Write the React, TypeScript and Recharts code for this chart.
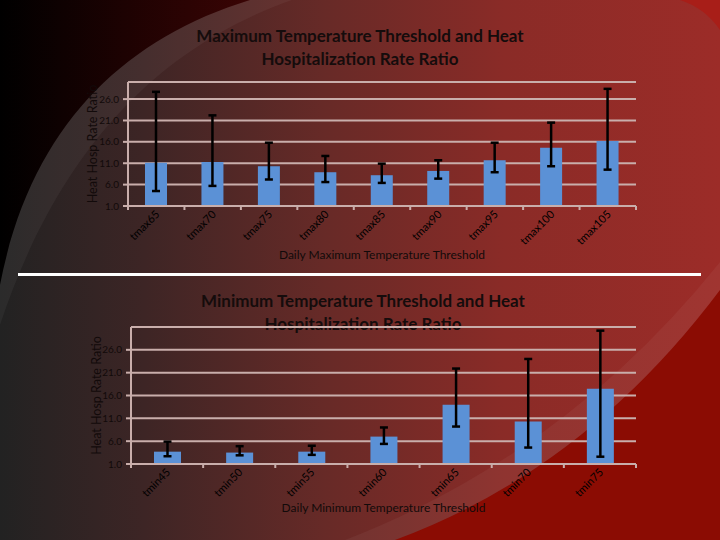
import React from 'react';
import { BarChart, Bar, XAxis, YAxis, CartesianGrid, ErrorBar, Label } from 'recharts';

const maxCategories = ['tmax65', 'tmax70', 'tmax75', 'tmax80', 'tmax85', 'tmax90', 'tmax95', 'tmax100', 'tmax105'];
const maxRatio = [11.1, 11.3, 10.3, 8.9, 8.2, 9.2, 11.7, 14.6, 16.2];
const maxLower = [4.5, 5.7, 7.2, 6.6, 6.4, 7.4, 8.9, 10.3, 9.5];
const maxUpper = [27.7, 22.2, 15.8, 12.7, 10.9, 11.7, 15.8, 20.5, 28.4];

const minCategories = ['tmin45', 'tmin50', 'tmin55', 'tmin60', 'tmin65', 'tmin70', 'tmin75'];
const minRatio = [3.7, 3.5, 3.7, 7.0, 14.0, 10.3, 17.5];
const minLower = [2.7, 2.9, 3.0, 5.4, 9.2, 4.6, 2.6];
const minUpper = [5.9, 4.9, 5.0, 9.0, 21.9, 24.0, 30.2];

const yTicks = [1, 6, 11, 16, 21, 26];

const buildRows = (cats: string[], vals: number[], lo: number[], hi: number[]) =>
  cats.map((c, i) => ({ name: c, ratio: vals[i], err: [vals[i] - lo[i], hi[i] - vals[i]] }));

const maxRows = buildRows(maxCategories, maxRatio, maxLower, maxUpper);
const minRows = buildRows(minCategories, minRatio, minLower, minUpper);

const FONT = 'Lato, "Open Sans", sans-serif';
const GRID = '#c9aeab';
const TEXT = '#120a0a';
const BAR = '#5b91d6';

const CHART_W = 720;
const RIGHT = 84;

const makeTick = (plotLeft: number, count: number) => (props: any) => {
  const { x, y, payload, index } = props;
  const step = (CHART_W - RIGHT - plotLeft) / count;
  const tx = x + 4;
  const ty = y + 9;
  return (
    <g>
      <line x1={x + step / 2} x2={x + step / 2} y1={y} y2={y + 4} stroke={GRID} strokeWidth={2} />
      {index === 0 ? <line x1={x - step / 2} x2={x - step / 2} y1={y} y2={y + 4} stroke={GRID} strokeWidth={2} /> : null}
      <text x={tx} y={ty} transform={`rotate(-45 ${tx} ${ty})`} textAnchor="end" fontSize={11} fill="#000" fontFamily={FONT}>
        {payload.value}
      </text>
    </g>
  );
};

const yLabel = (cx: number) => (props: any) => {
  const vb = props.viewBox || { x: 0, y: 0, width: 0, height: 0 };
  const cy = vb.y + vb.height / 2;
  const x = vb.x + cx;
  return (
    <text x={x} y={cy} transform={`rotate(-90 ${x} ${cy})`} textAnchor="middle" dominantBaseline="central" fontSize={12.5} fill={TEXT} fontFamily={FONT}>
      Heat Hosp Rate Ratio
    </text>
  );
};

const xTitle = (text: string, dy: number) => (props: any) => {
  const vb = props.viewBox || { x: 0, y: 0, width: 0, height: 0 };
  return (
    <text x={vb.x + vb.width / 2} y={vb.y + dy} textAnchor="middle" dominantBaseline="central" fontSize={12} fill={TEXT} fontFamily={FONT}>
      {text}
    </text>
  );
};

const titleStyle: React.CSSProperties = {
  position: 'absolute',
  left: 0,
  width: 720,
  textAlign: 'center',
  fontFamily: FONT,
  fontWeight: 700,
  fontSize: 17,
  lineHeight: '23px',
  color: '#150c0c',
};

const Panel = (p: {
  rows: any[];
  count: number;
  plotLeft: number;
  top: number;
  bottom: number;
  domainMax: number;
  barSize: number;
  labelX: number;
  title: string;
  titleDy: number;
}) => (
  <BarChart width={CHART_W} height={270} data={p.rows} margin={{ top: p.top, right: RIGHT, bottom: p.bottom, left: 0 }}>
    <CartesianGrid vertical={false} stroke={GRID} strokeWidth={2} />
    <XAxis
      dataKey="name"
      height={40}
      interval={0}
      tickLine={false}
      tickSize={0}
      tickMargin={0}
      tick={makeTick(p.plotLeft, p.count)}
      axisLine={{ stroke: GRID, strokeWidth: 2 }}
    >
      <Label content={xTitle(p.title, p.titleDy)} />
    </XAxis>
    <YAxis
      width={p.plotLeft}
      type="number"
      domain={[1, p.domainMax]}
      ticks={yTicks}
      interval={0}
      tickFormatter={(v: number) => v.toFixed(1)}
      tick={{ fontSize: 10, fill: TEXT, fontFamily: FONT }}
      tickSize={5}
      tickMargin={4}
      tickLine={{ stroke: GRID, strokeWidth: 2 }}
      axisLine={{ stroke: GRID, strokeWidth: 2 }}
    >
      <Label content={yLabel(p.labelX)} />
    </YAxis>
    <Bar dataKey="ratio" fill={BAR} barSize={p.barSize} isAnimationActive={false}>
      <ErrorBar dataKey="err" direction="y" width={4} strokeWidth={2.5} stroke="#000" />
    </Bar>
  </BarChart>
);

export default function App() {
  return (
    <div style={{ position: 'fixed', left: 0, top: 0, width: 720, height: 540, overflow: 'hidden' }}>
      <svg width={720} height={540} style={{ position: 'absolute', left: 0, top: 0 }}>
        <defs>
          <linearGradient id="bg" x1="0" y1="0" x2="1" y2="0">
            <stop offset="0" stopColor="#222222" />
            <stop offset="0.2" stopColor="#3d2525" />
            <stop offset="0.45" stopColor="#672a27" />
            <stop offset="0.7" stopColor="#8a2b27" />
            <stop offset="1" stopColor="#9c2c28" />
          </linearGradient>
          <linearGradient id="tl" x1="0" y1="0" x2="1" y2="0">
            <stop offset="0" stopColor="#000000" />
            <stop offset="1" stopColor="#3a0404" />
          </linearGradient>
        </defs>
        <rect width={720} height={540} fill="url(#bg)" />
        <path d="M0 0 L292 0 C 150 50, 55 160, 0 325 Z" fill="rgba(255,255,255,0.045)" />
        <path d="M0 0 L250 0 C 120 40, 30 130, 0 285 Z" fill="url(#tl)" />
        <path d="M720 262 Q565 455 345 540 L720 540 Z" fill="rgba(255,255,255,0.045)" />
        <path d="M720 290 Q585 470 395 540 L720 540 Z" fill="#8b0c03" />
        <path d="M680 0 L720 0 L720 30 Q705 8 680 0 Z" fill="#a81e18" />
        <rect x={18} y={273} width={683} height={3} fill="#ffffff" />
      </svg>
      <div style={{ ...titleStyle, top: 24 }}>
        Maximum Temperature Threshold and Heat
        <br />
        Hospitalization Rate Ratio
      </div>
      <div style={{ ...titleStyle, top: 289, left: 3 }}>
        Minimum Temperature Threshold and Heat
        <br />
        Hospitalization Rate Ratio
      </div>
      <div style={{ position: 'absolute', left: 0, top: 0 }}>
        <Panel rows={maxRows} count={maxCategories.length} plotLeft={128} top={82} bottom={24} domainMax={30} barSize={22} labelX={92} title="Daily Maximum Temperature Threshold" titleDy={48} />
      </div>
      <div style={{ position: 'absolute', left: 0, top: 270 }}>
        <Panel rows={minRows} count={minCategories.length} plotLeft={131} top={57} bottom={36} domainMax={31} barSize={27} labelX={96} title="Daily Minimum Temperature Threshold" titleDy={43} />
      </div>
    </div>
  );
}
